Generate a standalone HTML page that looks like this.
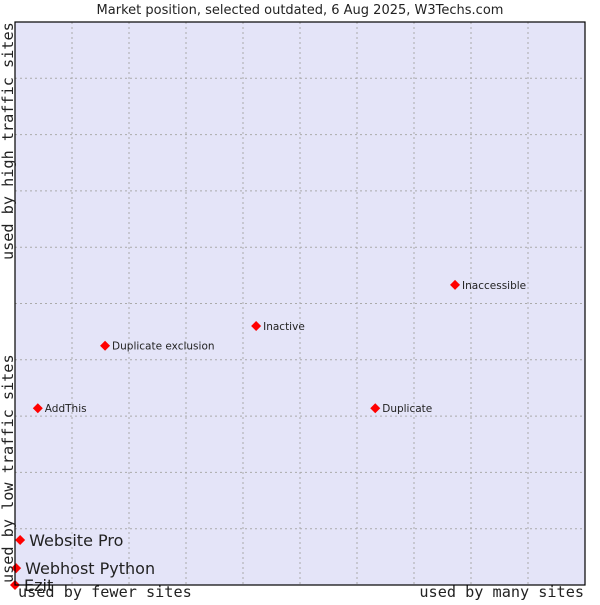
<!DOCTYPE html>
<html><head><meta charset="utf-8"><style>
body{margin:0;background:#fff;width:600px;height:600px;overflow:hidden}
svg text{font-family:"DejaVu Sans","Liberation Sans",sans-serif}
.mono{font-family:"DejaVu Sans Mono","Liberation Mono",monospace}
</style></head><body>
<svg id="chart" width="600" height="600">
<text x="300" y="14" text-anchor="middle" font-size="13" fill="#222">Market position, selected outdated, 6 Aug 2025, W3Techs.com</text>
<rect x="15" y="22" width="570" height="563" fill="#e4e4f8" stroke="#000" stroke-width="1"/>
<g id="grid"></g>
<g id="points"></g>
<rect x="15" y="22" width="570" height="563" fill="none" stroke="#000" stroke-width="1.2"/>
<text class="mono" x="18" y="597" font-size="15.2" fill="#222">used by fewer sites</text>
<text class="mono" x="584" y="597" font-size="15.2" fill="#222" text-anchor="end">used by many sites</text>
<text class="mono" transform="translate(13,583) rotate(-90)" font-size="15.2" fill="#222">used by low traffic sites</text>
<text class="mono" transform="translate(13,260) rotate(-90)" font-size="15.2" fill="#222">used by high traffic sites</text>
</svg>
<script>
const names=["AddThis","Duplicate exclusion","Inactive","Inaccessible","Duplicate","Website Pro","Webhost Python","Ezit"];
const xVals=[4.0,15.8,42.3,77.2,63.2,0.9,0.2,0.0];
const yVals=[31.4,42.5,46.0,53.3,31.4,8.0,3.0,0.0];
const bigLabel=[false,false,false,false,false,true,true,true];
const X0=15,X1=585,Y0=585,Y1=22;
const sx=v=>X0+(X1-X0)*v/100, sy=v=>Y0-(Y0-Y1)*v/100;
const NS="http://www.w3.org/2000/svg";
const grid=document.getElementById('grid'), pts=document.getElementById('points');
for(let i=1;i<10;i++){
  const v=document.createElementNS(NS,'line');
  
  
  v.setAttribute('x1',sx(i*10));v.setAttribute('x2',sx(i*10));v.setAttribute('y1',Y1);v.setAttribute('y2',Y0);
  v.setAttribute('stroke','#aaa');v.setAttribute('stroke-dasharray','2,3');grid.appendChild(v);
  const h=document.createElementNS(NS,'line');
  
  
  h.setAttribute('y1',sy(i*10));h.setAttribute('y2',sy(i*10));h.setAttribute('x1',X0);h.setAttribute('x2',X1);
  h.setAttribute('stroke','#aaa');h.setAttribute('stroke-dasharray','2,3');grid.appendChild(h);
}
names.forEach((n,i)=>{
  const x=sx(xVals[i]),y=sy(yVals[i]);
  const d=document.createElementNS(NS,'polygon');
  
  
  d.setAttribute('points',`${x},${y-5} ${x+5},${y} ${x},${y+5} ${x-5},${y}`);
  d.setAttribute('fill','#f00');pts.appendChild(d);
  const t=document.createElementNS(NS,'text');
  
  
  const big=bigLabel[i];
  t.setAttribute('x',x+(big?9:7));t.setAttribute('y',y+(big?6:4));
  t.setAttribute('font-size',big?16:10.5);t.setAttribute('fill','#222');
  t.textContent=n;pts.appendChild(t);
});
</script>
</body></html>
